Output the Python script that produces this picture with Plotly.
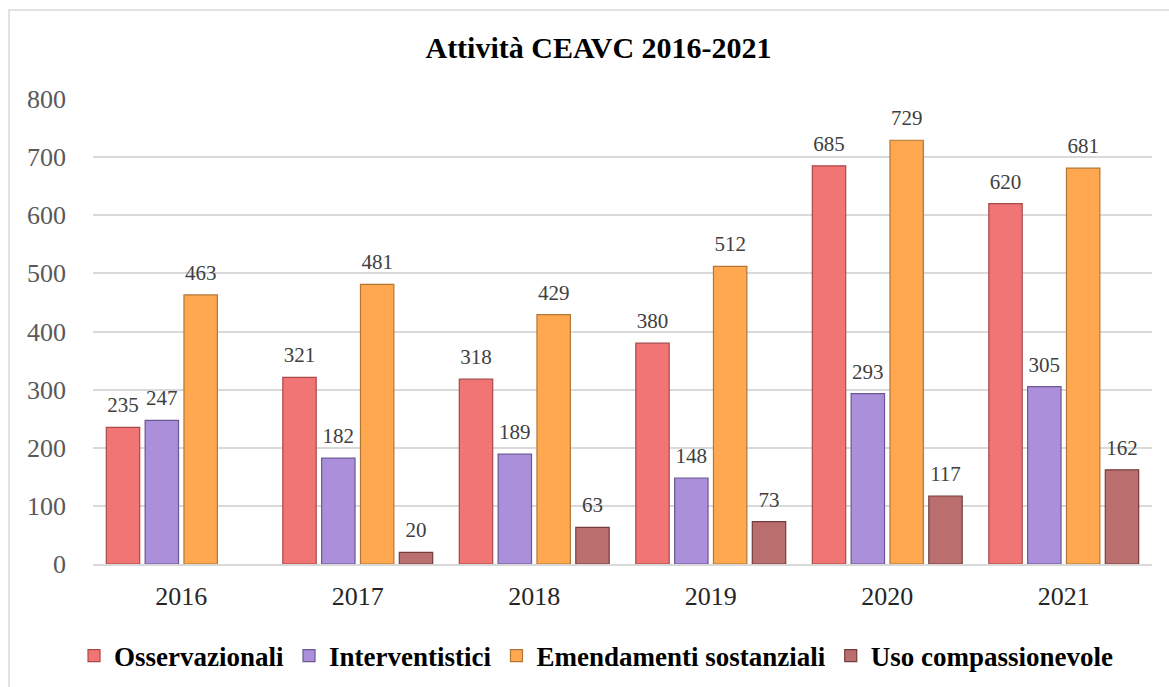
import plotly.graph_objects as go

years = ["2016", "2017", "2018", "2019", "2020", "2021"]
osservazionali = [235, 321, 318, 380, 685, 620]
interventistici = [247, 182, 189, 148, 293, 305]
emendamenti = [463, 481, 429, 512, 729, 681]
compassionevole = [None, 20, 63, 73, 117, 162]

series = [
    ("Osservazionali", osservazionali, "#f27575", "#a84a4a"),
    ("Interventistici", interventistici, "#ab8fdb", "#6a5890"),
    ("Emendamenti sostanziali", emendamenti, "#ffa84f", "#b07636"),
    ("Uso compassionevole", compassionevole, "#bb6e6e", "#743c3c"),
]

FONT = "Liberation Serif"

fig = go.Figure()
for i, (name, vals, col, lcol) in enumerate(series):
    fig.add_trace(go.Bar(
        x=years, y=vals, name=name, offsetgroup=str(i), alignmentgroup="a",
        marker=dict(color=col, line=dict(color=lcol, width=1.2)),
        hoverinfo="skip",
    ))
for i, (name, vals, col, lcol) in enumerate(series):
    fig.add_trace(go.Scatter(
        x=years, y=vals, name=name, offsetgroup=str(i), alignmentgroup="a",
        mode="markers+text", showlegend=False, hoverinfo="skip",
        marker=dict(size=14, color="rgba(0,0,0,0)"),
        text=[("" if v is None else str(v)) for v in vals],
        textposition="top center", cliponaxis=False,
        textfont=dict(family=FONT, size=21, color="#404040"),
    ))

fig.update_layout(
    width=1169, height=687,
    margin=dict(l=93, r=17, t=99, b=123),
    paper_bgcolor="white", plot_bgcolor="white",
    barmode="group", bargap=0.12, bargroupgap=0.14,
    scattermode="group", scattergap=0.12,
    title=dict(text="<b>Attività CEAVC 2016-2021</b>", x=0.512, xref="container",
               y=1 - 47 / 687, yref="container", yanchor="middle",
               font=dict(family=FONT, size=30, color="black")),
    font=dict(family=FONT),
    showlegend=True,
    legend=dict(orientation="h", x=0.475, xanchor="center",
                y=1 - 656 / 687, yref="container", yanchor="middle",
                font=dict(family=FONT, size=27, color="black", weight="bold"),
                itemwidth=30, tracegroupgap=0),
    xaxis=dict(showgrid=False, showline=True, linecolor="#d9d9d9", linewidth=2,
               ticks="outside", ticklen=8, tickcolor="rgba(0,0,0,0)", automargin=False,
               tickfont=dict(family=FONT, size=26, color="#262626")),
    yaxis=dict(range=[0, 800], dtick=100, showgrid=True, gridcolor="#d9d9d9", gridwidth=1.5,
               zeroline=False, showline=False, ticklabelstandoff=26, automargin=False,
               tickfont=dict(family=FONT, size=26, color="#595959")),
    shapes=[dict(type="rect", xref="paper", yref="paper",
                 x0=-0.0793, x1=1.06, y0=1.1914, y1=-0.35,
                 line=dict(color="#d9d9d9", width=1.5), fillcolor="rgba(0,0,0,0)", layer="below")],
)

fig.write_html("out.html", post_script="document.body.style.margin='0';",
               config={"displayModeBar": False})
